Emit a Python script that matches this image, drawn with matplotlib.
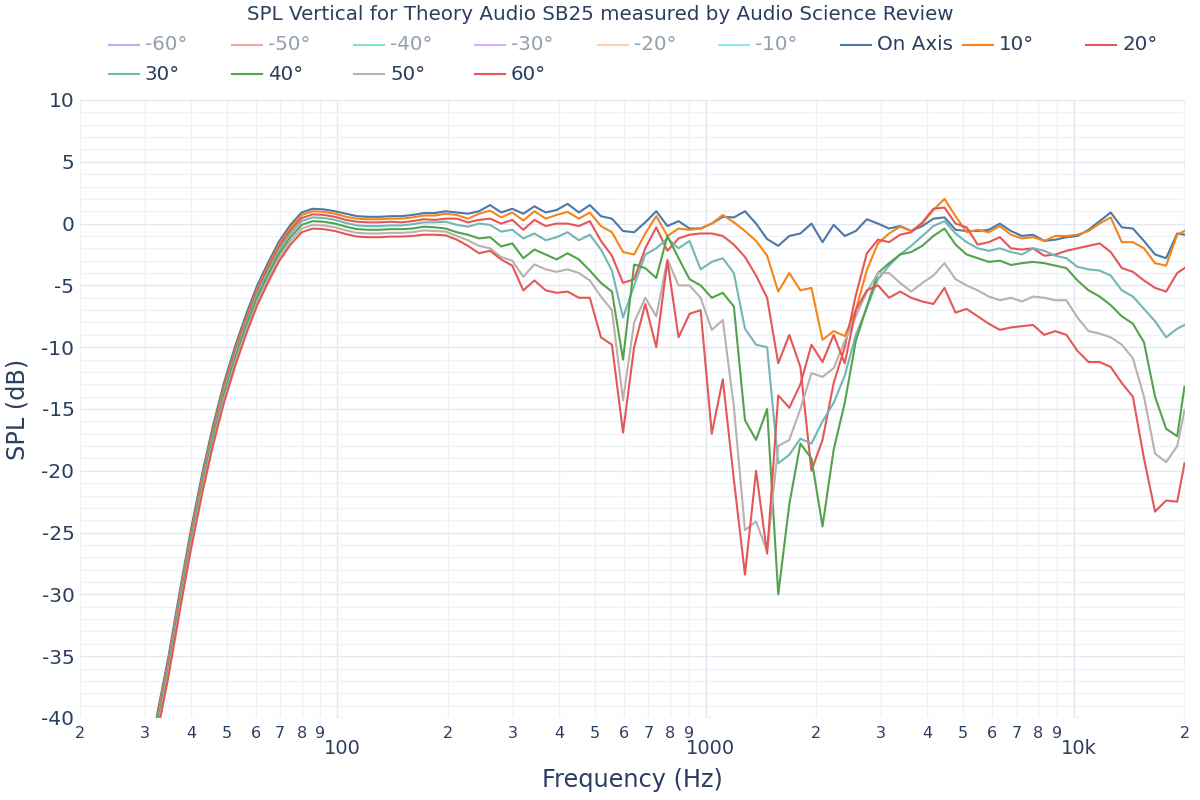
import matplotlib
matplotlib.use("Agg")
import matplotlib.pyplot as plt
from matplotlib.lines import Line2D
from matplotlib.ticker import MultipleLocator

plt.rcParams["font.family"] = ["DejaVu Sans"]
plt.rcParams["axes.unicode_minus"] = False

TITLE = "SPL Vertical for Theory Audio SB25 measured by Audio Science Review"

# measurement frequencies (Hz), ~1/10 octave
freq_hz = [
    20, 21.4, 23.0, 24.6, 26.4, 28.3, 30.3, 32.5, 34.8, 37.3,
    40, 42.9, 45.9, 49.2, 52.8, 56.6, 60.6, 65.0, 69.6, 74.6,
    80, 85.7, 91.9, 98.5, 105.6, 113.1, 121.3, 130.0, 139.3, 149.3,
    160, 171.5, 183.8, 197.0, 211.1, 226.3, 242.5, 259.9, 278.6, 298.6,
    320, 343, 368, 394, 422, 453, 485, 520, 557, 597,
    640, 686, 735, 788, 845, 905, 970, 1040, 1114, 1194,
    1280, 1372, 1470, 1576, 1689, 1810, 1940, 2079, 2229, 2389,
    2560, 2744, 2941, 3152, 3378, 3620, 3880, 4159, 4457, 4777,
    5120, 5487, 5881, 6303, 6756, 7241, 7760, 8317, 8914, 9554,
    10240, 10975, 11763, 12607, 13512, 14482, 15521, 16635, 17829, 19109,
    20000,
]

spl_on_axis = [
    -76, -71, -66, -61, -56, -51, -45.5, -39.5, -35.0, -29.8,
    -24.8, -20.3, -16.4, -12.9, -9.9, -7.3, -5.0, -3.1, -1.4, -0.1,
    0.9, 1.2, 1.15, 1.0, 0.8, 0.6, 0.55, 0.55, 0.6, 0.6,
    0.7, 0.85, 0.85, 1.0, 0.9, 0.8, 1.0, 1.5, 0.9, 1.2,
    0.8, 1.4, 0.9, 1.1, 1.6, 0.9, 1.5, 0.6, 0.4, -0.6,
    -0.7, 0.1, 1.0, -0.2, 0.2, -0.4, -0.4, 0.0, 0.55, 0.5,
    1.0, 0.0, -1.25, -1.8, -1.0, -0.8, 0.0, -1.5, -0.1, -1.0,
    -0.6, 0.35, 0.0, -0.4, -0.2, -0.6, -0.2, 0.4, 0.5, -0.5,
    -0.6, -0.6, -0.5, 0.0, -0.6, -1.0, -0.9, -1.4, -1.3, -1.1,
    -1.0, -0.5, 0.2, 0.9, -0.3, -0.4, -1.4, -2.5, -2.8, -0.8,
    -0.9,
]

spl_10 = [
    -76.3, -71.3, -66.3, -61.3, -56.3, -51.3, -45.8, -39.8, -35.3, -30.1,
    -25.1, -20.6, -16.7, -13.2, -10.2, -7.6, -5.3, -3.35, -1.65, -0.35,
    0.7, 1.0, 0.95, 0.8, 0.55, 0.4, 0.35, 0.35, 0.4, 0.4,
    0.5, 0.65, 0.65, 0.8, 0.7, 0.4, 0.8, 1.05, 0.5, 0.9,
    0.25, 1.0, 0.4, 0.7, 0.95, 0.4, 0.9, -0.2, -0.7, -2.3,
    -2.5, -0.8, 0.6, -1.0, -0.4, -0.5, -0.4, 0.0, 0.7, 0.1,
    -0.6, -1.4, -2.6, -5.5, -4.0, -5.4, -5.2, -9.4, -8.7, -9.1,
    -7.0, -3.75, -1.6, -0.8, -0.25, -0.6, 0.0, 1.1, 2.0, 0.6,
    -0.7, -0.5, -0.7, -0.2, -0.9, -1.2, -1.1, -1.4, -1.0, -1.0,
    -0.9, -0.6, 0.0, 0.5, -1.5, -1.5, -2.0, -3.2, -3.4, -0.9,
    -0.6,
]

spl_20 = [
    -76.5, -71.5, -66.5, -61.5, -56.5, -51.5, -46.0, -40.0, -35.5, -30.3,
    -25.3, -20.8, -16.9, -13.4, -10.4, -7.8, -5.5, -3.55, -1.85, -0.55,
    0.45, 0.75, 0.7, 0.55, 0.3, 0.15, 0.1, 0.1, 0.15, 0.1,
    0.2, 0.35, 0.3, 0.4, 0.4, 0.1, 0.3, 0.4, 0.0, 0.3,
    -0.5, 0.3, -0.2, 0.0, 0.0, -0.2, 0.2, -1.4, -2.6, -4.8,
    -4.5, -2.0, -0.3, -2.2, -1.2, -0.9, -0.8, -0.8, -1.0, -1.7,
    -2.7, -4.2, -6.0, -11.3, -9.0, -11.6, -20.0, -17.5, -12.9, -10.0,
    -5.8, -2.4, -1.3, -1.5, -0.9, -0.7, 0.1, 1.2, 1.3, 0.0,
    -0.3, -1.7, -1.5, -1.1, -2.0, -2.1, -2.0, -2.6, -2.5, -2.2,
    -2.0, -1.8, -1.6, -2.3, -3.6, -3.9, -4.6, -5.2, -5.5, -4.0,
    -3.6,
]

spl_30 = [
    -76.7, -71.7, -66.7, -61.7, -56.7, -51.7, -46.2, -40.2, -35.7, -30.5,
    -25.5, -21.0, -17.1, -13.6, -10.6, -8.0, -5.7, -3.8, -2.1, -0.8,
    0.2, 0.5, 0.45, 0.3, 0.05, -0.15, -0.2, -0.2, -0.15, -0.15,
    -0.05, 0.1, 0.1, 0.15, -0.1, -0.25, 0.0, -0.1, -0.65, -0.5,
    -1.2, -0.8, -1.35, -1.1, -0.7, -1.35, -0.9, -2.1, -3.8, -7.6,
    -5.0, -2.5, -2.0, -1.2, -2.0, -1.4, -3.7, -3.1, -2.8, -4.0,
    -8.5, -9.8, -10.0, -19.4, -18.7, -17.4, -17.8, -16.0, -14.5, -12.3,
    -9.0, -6.8, -4.5, -3.4, -2.5, -1.8, -1.0, -0.2, 0.2, -0.8,
    -1.5, -2.0, -2.2, -2.0, -2.3, -2.5, -2.0, -2.2, -2.6, -2.8,
    -3.5, -3.7, -3.8, -4.2, -5.4, -5.9, -6.9, -7.9, -9.2, -8.5,
    -8.2,
]

spl_40 = [
    -77.0, -72.0, -67.0, -62.0, -57.0, -52.0, -46.5, -40.5, -36.0, -30.8,
    -25.8, -21.3, -17.4, -13.9, -10.9, -8.3, -6.0, -4.1, -2.4, -1.1,
    -0.1, 0.2, 0.15, 0.0, -0.25, -0.45, -0.5, -0.5, -0.45, -0.45,
    -0.4, -0.25, -0.3, -0.4, -0.7, -0.9, -1.2, -1.1, -1.85, -1.6,
    -2.8, -2.1, -2.5, -2.9, -2.4, -2.9, -3.8, -4.8, -5.5, -11.0,
    -3.3, -3.6, -4.4, -1.0, -2.8, -4.5, -5.0, -6.0, -5.6, -6.7,
    -15.9, -17.5, -15.0, -30.0, -22.7, -17.8, -19.0, -24.5, -18.3, -14.5,
    -9.5, -6.7, -4.0, -3.2, -2.5, -2.3, -1.8, -1.0, -0.4, -1.7,
    -2.5, -2.8, -3.1, -3.0, -3.35, -3.2, -3.1, -3.2, -3.4, -3.6,
    -4.6, -5.4, -5.9, -6.6, -7.5, -8.1, -9.6, -14.0, -16.6, -17.2,
    -13.2,
]

spl_50 = [
    -77.3, -72.3, -67.3, -62.3, -57.3, -52.3, -46.8, -40.8, -36.3, -31.1,
    -26.1, -21.6, -17.7, -14.2, -11.2, -8.6, -6.3, -4.4, -2.7, -1.4,
    -0.4, -0.1, -0.15, -0.3, -0.55, -0.75, -0.8, -0.8, -0.75, -0.75,
    -0.7, -0.55, -0.6, -0.65, -1.0, -1.35, -1.8, -2.0, -2.7, -3.0,
    -4.3, -3.3, -3.7, -3.9, -3.7, -4.0, -4.6, -5.9, -7.0, -14.3,
    -8.0, -6.0, -7.5, -2.9, -5.0, -5.0, -6.0, -8.6, -7.8, -14.8,
    -24.8, -24.1, -26.5, -18.0, -17.5, -15.0, -12.1, -12.4, -11.7, -9.5,
    -7.5, -5.5, -4.0, -4.0, -4.8, -5.5, -4.8, -4.2, -3.2, -4.5,
    -5.0, -5.4, -5.9, -6.2, -6.0, -6.3, -5.9, -6.0, -6.2, -6.2,
    -7.6, -8.7, -8.9, -9.2, -9.8, -10.9, -14.0, -18.6, -19.3, -18.0,
    -15.1,
]

spl_60 = [
    -77.6, -72.6, -67.6, -62.6, -57.6, -52.6, -47.1, -41.1, -36.6, -31.4,
    -26.4, -21.9, -18.0, -14.5, -11.5, -8.9, -6.6, -4.7, -3.0, -1.7,
    -0.7, -0.4, -0.45, -0.6, -0.85, -1.05, -1.1, -1.1, -1.05, -1.05,
    -1.0, -0.9, -0.9, -0.95, -1.3, -1.8, -2.4, -2.2, -2.9, -3.4,
    -5.4, -4.6, -5.4, -5.6, -5.5, -6.0, -6.0, -9.2, -9.8, -16.9,
    -10.0, -6.5, -10.0, -3.0, -9.2, -7.3, -7.0, -17.0, -12.6, -20.7,
    -28.4, -20.0, -26.7, -13.9, -14.9, -13.0, -9.8, -11.2, -9.0, -11.3,
    -7.0, -5.4, -5.0, -6.0, -5.5, -6.0, -6.3, -6.5, -5.2, -7.2,
    -6.9, -7.5, -8.1, -8.6, -8.4, -8.3, -8.2, -9.0, -8.7, -9.0,
    -10.3, -11.2, -11.2, -11.6, -12.9, -14.0, -19.0, -23.3, -22.4, -22.5,
    -19.4,
]

# legend entries; the negative angles are hidden (legend only)
hidden_names = ["-60°", "-50°", "-40°", "-30°", "-20°", "-10°"]
hidden_colors = ["#b1b6fc", "#f7aa9d", "#7fe5ca", "#d5b1fc", "#ffd0ac", "#8ce9f9"]
visible_names = ["On Axis", "10°", "20°", "30°", "40°", "50°", "60°"]
visible_colors = ["#4c78a8", "#f58518", "#e45756", "#72b7b2", "#54a24b", "#bab0ac", "#e45756"]
visible_series = [spl_on_axis, spl_10, spl_20, spl_30, spl_40, spl_50, spl_60]

major_ticks = [100, 1000, 10000]
major_labels = ["100", "1000", "10k"]
minor_ticks = [20, 30, 40, 50, 60, 70, 80, 90,
               200, 300, 400, 500, 600, 700, 800, 900,
               2000, 3000, 4000, 5000, 6000, 7000, 8000, 9000, 20000]
minor_labels = ["2", "3", "4", "5", "6", "7", "8", "9",
                "2", "3", "4", "5", "6", "7", "8", "9",
                "2", "3", "4", "5", "6", "7", "8", "9", "2"]

TEXT = "#2a3f5f"
W, H = 1200, 800

fig = plt.figure(figsize=(12, 8), dpi=100)
ax = fig.add_axes([80 / W, 1 - 718 / H, 1104.5 / W, 618 / H])

for vals, color in zip(visible_series, visible_colors):
    ax.plot(freq_hz, vals, color=color, lw=1.5, solid_joinstyle="round")

ax.set_xscale("log")
ax.set_xlim(20, 20000)
ax.set_ylim(-40, 10)

ax.set_xticks(major_ticks)
ax.set_xticks(minor_ticks, minor=True)
ax.tick_params(axis="x", which="both", length=0, labelbottom=False)
ax.yaxis.set_major_locator(MultipleLocator(5))
ax.yaxis.set_minor_locator(MultipleLocator(1))
ax.tick_params(axis="y", which="both", length=0, pad=4, labelsize=14.5, labelcolor=TEXT)

ax.grid(which="major", color="#e4e9f1", lw=1)
ax.grid(which="minor", color="#eef1f6", lw=1)
ax.set_axisbelow(True)
for s in ax.spines.values():
    s.set_visible(False)

# x tick labels drawn by hand: small digits and larger decade labels below
for f, lbl in zip(minor_ticks, minor_labels):
    ax.annotate(lbl, xy=(f, 0), xycoords=("data", "axes fraction"),
                xytext=(0, -10.8), textcoords="offset points",
                ha="center", va="center", fontsize=11.5, color=TEXT)
for f, lbl in zip(major_ticks, major_labels):
    ax.annotate(lbl, xy=(f, 0), xycoords=("data", "axes fraction"),
                xytext=(3.6, -21.6), textcoords="offset points",
                ha="center", va="center", fontsize=14, color=TEXT)

fig.text(0.5, 1 - 15 / H, TITLE, ha="center", va="center", fontsize=14.3, color=TEXT)
fig.text(632 / W, 1 - 780 / H, "Frequency (Hz)", ha="center", va="center",
         fontsize=17.3, color=TEXT)
fig.text(18 / W, 1 - 409 / H, "SPL (dB)", ha="center", va="center", rotation=90,
         fontsize=17.3, color=TEXT)

# legend: two rows, laid out like the original
col_x = [109, 232, 354, 475, 598, 719, 841, 963, 1086]
entries = ([(n, c, True) for n, c in zip(hidden_names, hidden_colors)] +
           [(n, c, False) for n, c in zip(visible_names, visible_colors)])
for i, (name, color, hidden) in enumerate(entries):
    row, col = divmod(i, 9)
    x0 = col_x[col]
    y = 1 - (45 + row * 29) / H
    fig.add_artist(Line2D([x0 / W, (x0 + 30) / W], [y, y], color=color, lw=1.5,
                          transform=fig.transFigure))
    fig.text((x0 + 36) / W, y, name, ha="left", va="center", fontsize=14.3,
             color="#949faf" if hidden else TEXT)

fig.savefig("out.png", dpi=100, facecolor="white")
